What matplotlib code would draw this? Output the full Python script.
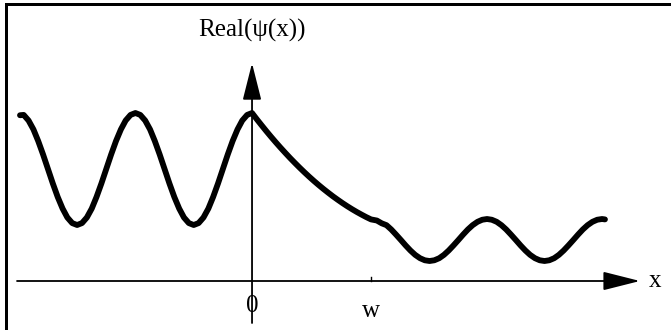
import matplotlib
matplotlib.use("Agg")
import matplotlib.pyplot as plt
from matplotlib.patches import Rectangle

# x in units of the barrier width w (0 = left edge of barrier), y in arbitrary units
# region x < 0 : incident + reflected wave
x_left = [-1.950, -1.919, -1.878, -1.837, -1.797, -1.756, -1.715, -1.674, -1.633,
          -1.592, -1.552, -1.511, -1.470, -1.429, -1.388, -1.347, -1.307, -1.266,
          -1.225, -1.184, -1.143, -1.102, -1.062, -1.021, -0.980, -0.939, -0.898,
          -0.857, -0.817, -0.776, -0.735, -0.694, -0.653, -0.612, -0.572, -0.531,
          -0.490, -0.449, -0.408, -0.367, -0.327, -0.286, -0.245, -0.204, -0.163,
          -0.122, -0.082, -0.041, 0.000]
y_left = [2.960, 2.966, 2.866, 2.707, 2.500, 2.259, 2.000, 1.741, 1.500,
          1.293, 1.134, 1.034, 1.000, 1.034, 1.134, 1.293, 1.500, 1.741,
          2.000, 2.259, 2.500, 2.707, 2.866, 2.966, 3.000, 2.966, 2.866,
          2.707, 2.500, 2.259, 2.000, 1.741, 1.500, 1.293, 1.134, 1.034,
          1.000, 1.034, 1.134, 1.293, 1.500, 1.741, 2.000, 2.259, 2.500,
          2.707, 2.866, 2.966, 3.000]

# region 0 < x < w : inside the barrier (decaying)
x_mid = [0.04, 0.08, 0.12, 0.16, 0.20, 0.24, 0.28, 0.32, 0.36, 0.40, 0.44, 0.48,
         0.52, 0.56, 0.60, 0.64, 0.68, 0.72, 0.76, 0.80, 0.84, 0.88, 0.92, 0.96,
         1.00]
y_mid = [2.889, 2.782, 2.677, 2.575, 2.476, 2.380, 2.287, 2.196, 2.109, 2.024,
         1.942, 1.863, 1.787, 1.714, 1.644, 1.577, 1.512, 1.451, 1.392, 1.336,
         1.283, 1.233, 1.186, 1.141, 1.100]

# region x > w : transmitted wave
x_right = [1.049, 1.090, 1.130, 1.170, 1.210, 1.251, 1.291, 1.331, 1.371, 1.412,
           1.452, 1.492, 1.532, 1.573, 1.613, 1.653, 1.693, 1.734, 1.774, 1.814,
           1.854, 1.895, 1.935, 1.975, 2.015, 2.056, 2.096, 2.136, 2.176, 2.217,
           2.257, 2.297, 2.337, 2.378, 2.418, 2.458, 2.498, 2.539, 2.579, 2.619,
           2.659, 2.700, 2.740, 2.780, 2.820, 2.861, 2.901, 2.941, 2.966]
y_right = [1.080, 1.030, 0.997, 0.920, 0.829, 0.732, 0.635, 0.545, 0.467, 0.407,
           0.370, 0.357, 0.370, 0.407, 0.467, 0.545, 0.635, 0.732, 0.829, 0.920,
           0.997, 1.057, 1.094, 1.107, 1.094, 1.057, 0.997, 0.920, 0.829, 0.732,
           0.635, 0.545, 0.467, 0.407, 0.370, 0.357, 0.370, 0.407, 0.467, 0.545,
           0.635, 0.732, 0.829, 0.920, 0.997, 1.057, 1.094, 1.107, 1.100]

tick_positions = [0.0, 1.0]
tick_labels = ["0", "w"]
y_label = "Real(\u03c8(x))"
x_label = "x"

FONT = "Liberation Serif"

fig = plt.figure(figsize=(6.71, 3.30), dpi=100)
ax = fig.add_axes([0, 0, 1, 1])
ax.set_xlim(-2.118, 3.521)
ax.set_ylim(-0.875, 5.018)
ax.axis("off")

# curve
xs = x_left + x_mid + x_right
ys = y_left + y_mid + y_right
ax.plot(xs, ys, color="black", lw=4.2, solid_capstyle="round",
        solid_joinstyle="round", zorder=3)

# axes with arrows
arrow_style = "-|>,head_length=2.3,head_width=0.58"
ax.annotate("", xy=(3.26, 0), xytext=(-1.975, 0),
            arrowprops=dict(arrowstyle=arrow_style, color="black", lw=1.3,
                            shrinkA=0, shrinkB=0, mutation_scale=10), zorder=4)
ax.annotate("", xy=(0, 3.89), xytext=(0, -0.75),
            arrowprops=dict(arrowstyle=arrow_style, color="black", lw=1.3,
                            shrinkA=0, shrinkB=0, mutation_scale=10), zorder=4)

# tick at w
ax.plot([tick_positions[1], tick_positions[1]], [0, 0.08], color="black", lw=1.0)

# tick labels
ax.text(tick_positions[0], -0.45, tick_labels[0], ha="center", va="center",
        fontsize=18, family=FONT, zorder=2)
ax.text(tick_positions[1], -0.54, tick_labels[1], ha="center", va="center",
        fontsize=18, family=FONT)
ax.text(3.39, 0.0, x_label, ha="center", va="center", fontsize=18, family=FONT)
ax.text(0.0, 4.48, y_label, ha="center", va="center", fontsize=18, family=FONT)

# frame: left and top borders only
fig.add_artist(Rectangle((5 / 671, 0), 3 / 671, 1 - 3 / 330,
                         transform=fig.transFigure, color="black", lw=0))
fig.add_artist(Rectangle((5 / 671, 1 - 5.5 / 330), 1 - 5 / 671, 2.5 / 330,
                         transform=fig.transFigure, color="black", lw=0))

fig.savefig("out.png", dpi=100, facecolor="white")
